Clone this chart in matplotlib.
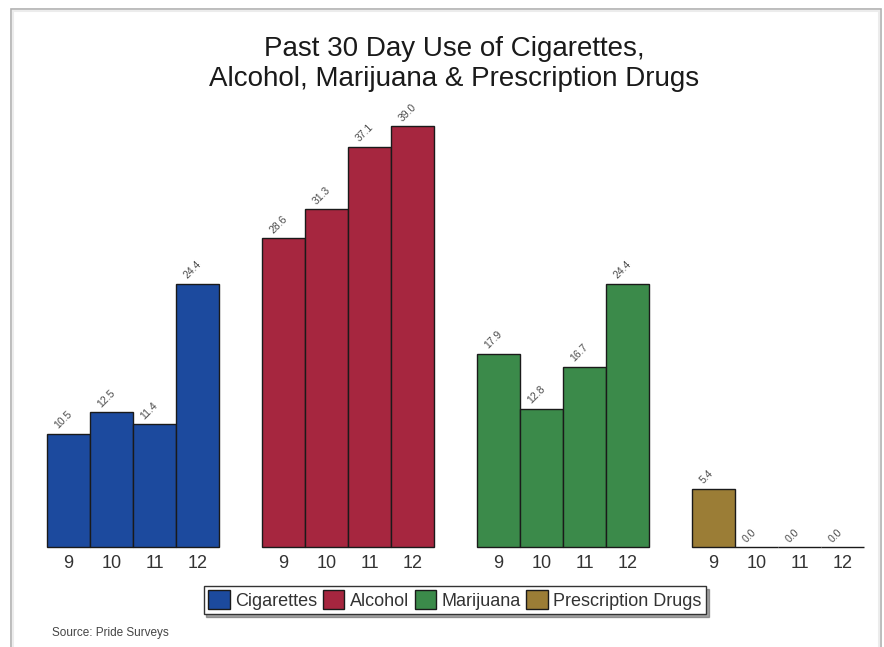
import matplotlib
matplotlib.use("Agg")
import matplotlib.pyplot as plt
from matplotlib.patches import Rectangle
import numpy as np

plt.rcParams['font.family'] = ['Liberation Sans', 'DejaVu Sans']

grades = ["9", "10", "11", "12"]
substances = ["Cigarettes", "Alcohol", "Marijuana", "Prescription Drugs"]
cigarettes = [10.5, 12.5, 11.4, 24.4]
alcohol = [28.6, 31.3, 37.1, 39.0]
marijuana = [17.9, 12.8, 16.7, 24.4]
prescription = [5.4, 0.0, 0.0, 0.0]
series = [cigarettes, alcohol, marijuana, prescription]
colors = ["#1c4a9e", "#a6263f", "#3b8a4a", "#9b7d36"]

W, H = 884, 647
fig = plt.figure(figsize=(W / 100, H / 100), dpi=100)

# outer frame
fig.add_artist(Rectangle((11 / W, -0.05), (881 - 11) / W, (H - 9) / H + 0.05,
                         transform=fig.transFigure, fill=False,
                         edgecolor="#b0b0b0", linewidth=1.2))
fig.add_artist(Rectangle((13 / W, -0.05), (879 - 13) / W, (H - 11) / H + 0.05,
                         transform=fig.transFigure, fill=False,
                         edgecolor="#ececec", linewidth=1.5))

base_px = 547
scale = (547 - 126) / 39.0
ymax = 40.0
ax = fig.add_axes([47 / W, (H - base_px) / H, (864 - 47) / W, ymax * scale / H])
ax.set_xlim(0, 19)
ax.set_ylim(0, ymax)
for s in ax.spines.values():
    s.set_visible(False)
ax.set_yticks([])

xs, labels = [], []
for g, (vals, col, name) in enumerate(zip(series, colors, substances)):
    pos = np.arange(4) + g * 5
    ax.bar(pos, vals, width=1.0, align='edge', color=col, edgecolor="#1a1a1a",
           linewidth=1.0, label=name, clip_on=False)
    for p, v in zip(pos, vals):
        ax.annotate(f"{v:.1f}", xy=(p, v), xytext=(13, 3), textcoords="offset pixels",
                    rotation=45, rotation_mode="anchor", ha="left", va="bottom",
                    fontsize=7.5, color="#4a4a4a")
    xs.extend(pos + 0.5)
    labels.extend(grades)

ax.set_xticks(xs)
ax.set_xticklabels(labels, fontsize=13, color="#333333")
ax.tick_params(axis='x', length=0, pad=6)

fig.text(454 / W, 1 - 64 / H,
         "Past 30 Day Use of Cigarettes,\nAlcohol, Marijuana & Prescription Drugs",
         ha="center", va="center", fontsize=20, color="#1a1a1a", linespacing=1.15)

leg = ax.legend(loc="center", bbox_to_anchor=(455 / W, 1 - 600 / H),
                bbox_transform=fig.transFigure, ncol=4, frameon=True,
                fancybox=False, shadow=True, fontsize=13, handlelength=1.2,
                handleheight=1.2, handletextpad=0.3, columnspacing=0.3,
                borderpad=0.25, borderaxespad=0)
leg.get_frame().set_edgecolor("#333333")
leg.get_frame().set_linewidth(1.0)
for t in leg.get_texts():
    t.set_color("#333333")

fig.text(52 / W, 1 - 633 / H, "Source: Pride Surveys", ha="left", va="center",
         fontsize=8.5, color="#444444")

fig.savefig("out.png", dpi=100)
